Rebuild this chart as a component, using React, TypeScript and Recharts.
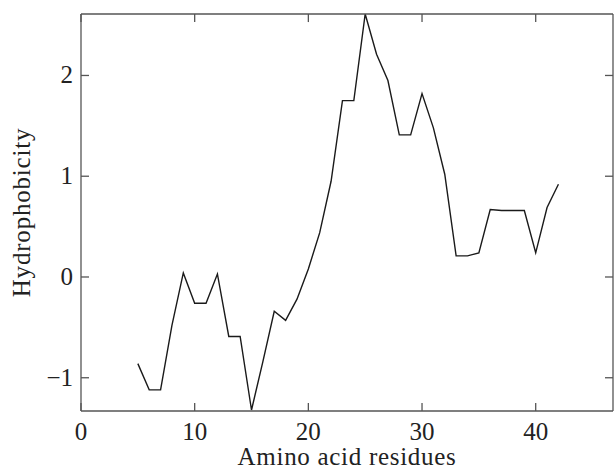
import { LineChart, Line, XAxis, YAxis, ReferenceLine } from 'recharts'

const residues = [5, 6, 7, 8, 9, 10, 11, 12, 13, 14, 15, 16, 17, 18, 19, 20, 21, 22, 23, 24, 25, 26, 27, 28, 29, 30, 31, 32, 33, 34, 35, 36, 37, 38, 39, 40, 41, 42]
const hydrophobicity = [
    -0.86, -1.12, -1.12, -0.48, 0.04, -0.26, -0.26, 0.03, -0.59, -0.59,
    -1.32, -0.84, -0.34, -0.43, -0.22, 0.08, 0.44, 0.95, 1.75, 1.75,
    2.61, 2.21, 1.95, 1.41, 1.41, 1.82, 1.48, 1.02, 0.21, 0.21,
    0.24, 0.67, 0.66, 0.66, 0.66, 0.24, 0.69, 0.92
]
const xTicks = [0, 10, 20, 30, 40]
const yTicks = [-1, 0, 1, 2]
const xDomain = [0, 46.8]
const yDomain = [-1.33, 2.61]

const chartData = residues.map((r, i) => ({ residue: r, value: hydrophobicity[i] }))

const FONT = '"Liberation Serif", "Times New Roman", serif'
const AXIS_COLOR = '#555'
const TEXT_COLOR = '#222'

const fmt = (v: number) => (v < 0 ? '\u2212' + Math.abs(v) : String(v))

// ticks point inwards, like the original plot
const BottomTick = (props: any) => {
    const { x, y, payload } = props
    return (
        <g>
            <line x1={x} x2={x} y1={y} y2={y - 8} stroke={AXIS_COLOR} strokeWidth={1.3} />
            <text x={x} y={y + 29} textAnchor="middle" fontFamily={FONT} fontSize={25} fill={TEXT_COLOR}>
                {fmt(payload.value)}
            </text>
        </g>
    )
}

const LeftTick = (props: any) => {
    const { x, y, payload } = props
    return (
        <g>
            <line x1={x} x2={x + 8} y1={y} y2={y} stroke={AXIS_COLOR} strokeWidth={1.3} />
            <text x={x - 8} y={y + 8} textAnchor="end" fontFamily={FONT} fontSize={25} fill={TEXT_COLOR}>
                {fmt(payload.value)}
            </text>
        </g>
    )
}

const RightTick = (props: any) => {
    const { x, y } = props
    return <line x1={x} x2={x - 8} y1={y} y2={y} stroke={AXIS_COLOR} strokeWidth={1.3} />
}

const YTitle = (props: any) => {
    const vb = props.viewBox
    const cy = vb.y + vb.height / 2
    const cx = 30
    return (
        <text x={cx} y={cy} transform={`rotate(-90, ${cx}, ${cy})`} textAnchor="middle"
            fontFamily={FONT} fontSize={25} letterSpacing={0.8} fill={TEXT_COLOR}>
            Hydrophobicity
        </text>
    )
}

const XTitle = (props: any) => {
    const vb = props.viewBox
    return (
        <text x={vb.x + vb.width / 2} y={vb.y + 54} textAnchor="middle"
            fontFamily={FONT} fontSize={25} letterSpacing={0.7} fill={TEXT_COLOR}>
            Amino acid residues
        </text>
    )
}

const App = () => {
    return (
        <div style={{ position: 'absolute', left: 0, top: 0, width: 614, height: 468, overflow: 'hidden', background: '#fff' }}>
            <LineChart width={614} height={468} data={chartData}
                margin={{ top: 13, right: 0, left: 0, bottom: 0 }}>
                <XAxis dataKey="residue" type="number" domain={xDomain} ticks={xTicks}
                    allowDataOverflow height={57} tickSize={0} tickMargin={0} tickLine={false}
                    tick={<BottomTick />} stroke={AXIS_COLOR} strokeWidth={1.3}
                    label={<XTitle />} />
                <XAxis xAxisId="top" orientation="top" dataKey="residue" type="number" domain={xDomain}
                    ticks={xTicks} allowDataOverflow height={1} tick={false} tickLine={false}
                    stroke={AXIS_COLOR} strokeWidth={1.3} />
                <YAxis type="number" domain={yDomain} ticks={yTicks} allowDataOverflow width={81}
                    tickSize={0} tickMargin={0} tickLine={false} tick={<LeftTick />}
                    stroke={AXIS_COLOR} strokeWidth={1.3} label={<YTitle />} />
                <YAxis yAxisId="right" orientation="right" type="number" domain={yDomain} ticks={yTicks}
                    allowDataOverflow width={1} tickSize={0} tickMargin={0} tickLine={false}
                    tick={<RightTick />} stroke={AXIS_COLOR} strokeWidth={1.3} />
                {/* inward tick marks along the top edge */}
                {xTicks.map((t) => (
                    <ReferenceLine key={t} segment={[{ x: t, y: yDomain[1] }, { x: t, y: yDomain[1] - 0.08 }]}
                        stroke={AXIS_COLOR} strokeWidth={1.3} />
                ))}
                {/* invisible copy so the top / right frame axes get drawn */}
                <Line xAxisId="top" yAxisId="right" type="linear" dataKey="value" stroke="none"
                    dot={false} activeDot={false} isAnimationActive={false} />
                <Line type="linear" dataKey="value" stroke="#1a1a1a" strokeWidth={1.4}
                    dot={false} activeDot={false} isAnimationActive={false} />
            </LineChart>
        </div>
    )
}

export default App
